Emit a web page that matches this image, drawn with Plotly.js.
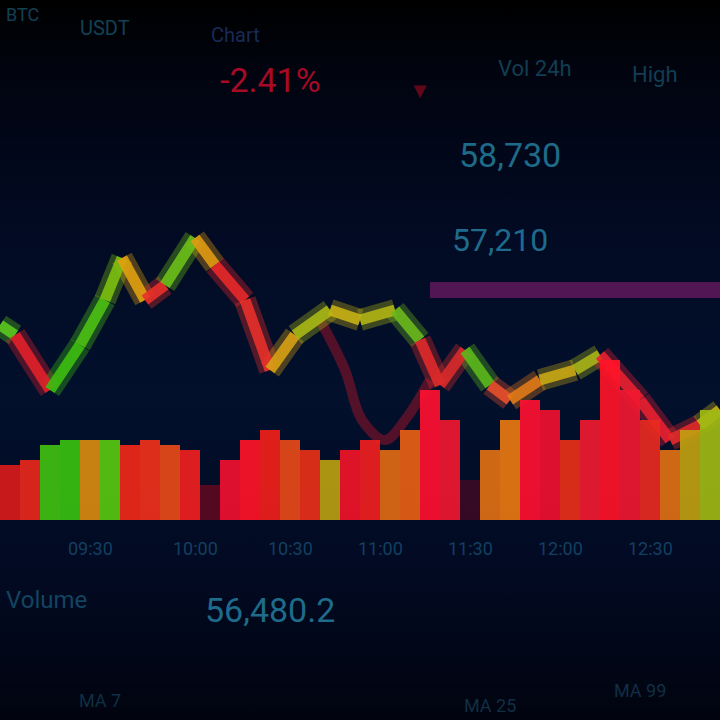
<!DOCTYPE html>
<html>
<head>
<meta charset="utf-8">
<script src="https://cdn.plot.ly/plotly-3.0.1.min.js"></script>
<style>
  html, body { margin: 0; padding: 0; }
  body { width: 720px; height: 720px; overflow: hidden;
         background: linear-gradient(to bottom, #000000 0%, #01040f 10%, #020a22 30%, #02102c 55%, #020a22 80%, #01040f 100%); }
  #chart { width: 720px; height: 720px; }
</style>
</head>
<body>
<div id="chart"></div>
<script>
// ---- price line ----
const priceTime  = [0, 15, 50, 80, 105, 122, 145, 165, 195, 215, 245, 270, 295, 330, 360, 395, 420, 440, 465, 490, 510, 540, 575, 600, 640, 670, 700, 720];
const priceValue = [395, 385, 330, 375, 420, 462, 420, 435, 482, 455, 420, 350, 385, 410, 400, 410, 380, 335, 370, 335, 320, 340, 350, 365, 320, 280, 295, 310];
const priceColor = ['#5cc81e', '#e0202a', '#3cbf10', '#4cc214', '#7cc010', '#e0a010', '#e8302a', '#6cc018', '#e09a12', '#e8282a', '#e8302a', '#d8a014', '#a8b814', '#c8b014', '#b0b414', '#6cb81c', '#e02a2a', '#d82a2a', '#5cb81c', '#e8502a', '#e07a18', '#c8a814', '#a8b418', '#e82030', '#e82030', '#e02a2a', '#c8b014', '#c8b014'];

// ---- moving average (faint) ----
const maTime  = [320, 345, 362, 385, 405, 430];
const maValue = [400, 350, 300, 280, 300, 340];

// ---- volume bars ----
const volTime  = [10, 30, 50, 70, 90, 110, 130, 150, 170, 190, 210, 230, 250, 270, 290, 310, 330, 350, 370, 390, 410, 430, 450, 470, 490, 510, 530, 550, 570, 590, 610, 630, 650, 670, 690, 710];
const volValue = [55, 60, 75, 80, 80, 80, 75, 80, 75, 70, 35, 60, 80, 90, 80, 70, 60, 70, 80, 70, 90, 130, 100, 40, 70, 100, 120, 110, 80, 100, 160, 130, 100, 70, 90, 110];
const volColor = ['#d81a1a', '#e8281a', '#40c010', '#38c010', '#d88a10', '#58c810', '#f02818', '#f0301a', '#e84a18', '#f02020', '#5a0a20', '#f01030', '#ff1428', '#f0201a', '#e84a18', '#e83018', '#b8a010', '#f01428', '#f02020', '#e06a14', '#e86014', '#ff1030', '#f01830', '#3a0a24', '#e07014', '#e87810', '#ff1030', '#f01030', '#e83018', '#f01a30', '#ff1428', '#f01830', '#e82a20', '#e07014', '#c0a010', '#a0b814'];

// ---- reference level ----
const refLevel = 430;

// ---- blurred labels ----
const tickLabels = ['09:30', '10:00', '10:30', '11:00', '11:30', '12:00', '12:30'];
const tickTimes  = [90, 195, 290, 380, 470, 560, 650];

const traces = [];

traces.push({
  type: 'bar', x: volTime, y: volValue, yaxis: 'y2',
  marker: { color: volColor, opacity: 0.92, line: { width: 0 } },
  width: 20, hoverinfo: 'skip'
});

traces.push({
  type: 'scatter', mode: 'lines', x: maTime, y: maValue,
  line: { color: 'rgba(150,20,40,0.55)', width: 10, shape: 'spline' }, hoverinfo: 'skip'
});

for (let pass = 0; pass < 2; pass++) {
  for (let i = 0; i < priceTime.length - 1; i++) {
    traces.push({
      type: 'scatter', mode: 'lines',
      x: [priceTime[i], priceTime[i + 1]],
      y: [priceValue[i], priceValue[i + 1]],
      line: { color: priceColor[i], width: pass === 0 ? 22 : 11 },
      opacity: pass === 0 ? 0.35 : 0.9,
      hoverinfo: 'skip'
    });
  }
}

const dimCyan = 'rgba(40,140,175,0.75)';
const annotations = [];
function lab(text, x, y, size, color, anchor) {
  annotations.push({ text: text, x: x, y: y, xref: 'paper', yref: 'paper',
    showarrow: false, font: { family: 'Roboto, sans-serif', size: size, color: color },
    xanchor: anchor || 'center', yanchor: 'middle' });
}
lab('BTC', 4 / 720, 1 - 14 / 720, 18, 'rgba(30,110,140,0.6)', 'left');
lab('USDT', 105 / 720, 1 - 28 / 720, 20, 'rgba(30,110,140,0.6)');
lab('Chart', 235 / 720, 1 - 35 / 720, 20, 'rgba(40,70,140,0.6)');
lab('-2.41%', 270 / 720, 1 - 80 / 720, 34, 'rgba(200,10,40,0.85)');
lab('▼', 420 / 720, 1 - 90 / 720, 22, 'rgba(140,10,30,0.7)');
lab('Vol 24h', 535 / 720, 1 - 68 / 720, 22, 'rgba(30,100,130,0.6)');
lab('High', 655 / 720, 1 - 75 / 720, 22, 'rgba(30,100,130,0.6)');
lab('58,730', 510 / 720, 1 - 155 / 720, 34, dimCyan);
lab('57,210', 500 / 720, 1 - 240 / 720, 32, dimCyan);
for (let i = 0; i < tickLabels.length; i++) {
  lab(tickLabels[i], tickTimes[i] / 720, 1 - 548 / 720, 18, 'rgba(30,100,140,0.6)');
}
lab('Volume', 4 / 720, 1 - 600 / 720, 24, 'rgba(30,110,145,0.6)', 'left');
lab('56,480.2', 270 / 720, 1 - 610 / 720, 34, dimCyan);
lab('MA 7', 100 / 720, 1 - 700 / 720, 18, 'rgba(30,90,120,0.5)');
lab('MA 25', 490 / 720, 1 - 705 / 720, 18, 'rgba(30,90,120,0.5)');
lab('MA 99', 640 / 720, 1 - 690 / 720, 18, 'rgba(30,90,120,0.5)');

const layout = {
  width: 720, height: 720,
  margin: { l: 0, r: 0, t: 0, b: 0 },
  paper_bgcolor: 'rgba(0,0,0,0)', plot_bgcolor: 'rgba(0,0,0,0)',
  showlegend: false,
  bargap: 0,
  xaxis: { range: [0, 720], showgrid: false, zeroline: false, showticklabels: false, fixedrange: true },
  yaxis: { range: [0, 720], showgrid: false, zeroline: false, showticklabels: false },
  yaxis2: { range: [-200, 520], overlaying: 'y', showgrid: false, zeroline: false, showticklabels: false },
  shapes: [
    { type: 'line', xref: 'x', yref: 'y', x0: 430, x1: 720, y0: refLevel, y1: refLevel,
      line: { color: 'rgba(110,25,100,0.75)', width: 16 }, layer: 'below' }
  ],
  annotations: annotations
};

Plotly.newPlot('chart', traces, layout, { staticPlot: true });
</script>
</body>
</html>
